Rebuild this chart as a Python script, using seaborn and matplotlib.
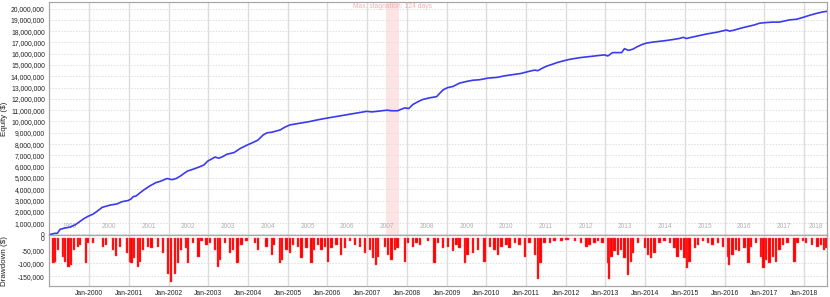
import matplotlib
matplotlib.use("Agg")
import numpy as np
import pandas as pd
import matplotlib.pyplot as plt
import seaborn as sns
from matplotlib.ticker import FuncFormatter, MultipleLocator

# ---------------- data ----------------
eq_year = [1999.02, 1999.14, 1999.20, 1999.27, 1999.37, 1999.52, 1999.65, 1999.77, 1999.87, 1999.97,
           2000.10, 2000.20, 2000.33, 2000.43, 2000.53, 2000.70, 2000.83, 2000.98, 2001.06, 2001.11,
           2001.18, 2001.36, 2001.53, 2001.69, 2001.79, 2001.96, 2002.09, 2002.19, 2002.29, 2002.47,
           2002.64, 2002.79, 2002.89, 2002.99, 2003.17, 2003.27, 2003.37, 2003.47, 2003.65, 2003.80,
           2003.97, 2004.10, 2004.25, 2004.38, 2004.48, 2004.60, 2004.81, 2004.93, 2005.06, 2005.31,
           2005.56, 2005.76, 2005.99, 2006.24, 2006.49, 2006.74, 2006.99, 2007.12, 2007.25, 2007.50,
           2007.62, 2007.77, 2007.87, 2007.95, 2008.05, 2008.15, 2008.28, 2008.40, 2008.58, 2008.75,
           2008.83, 2008.91, 2009.03, 2009.16, 2009.33, 2009.51, 2009.66, 2009.84, 2010.06, 2010.26,
           2010.47, 2010.67, 2010.87, 2011.09, 2011.22, 2011.30, 2011.40, 2011.52, 2011.65, 2011.77,
           2011.92, 2012.10, 2012.35, 2012.60, 2012.86, 2012.98, 2013.06, 2013.18, 2013.31, 2013.41,
           2013.48, 2013.58, 2013.69, 2013.79, 2013.91, 2014.04, 2014.24, 2014.49, 2014.69, 2014.86,
           2014.96, 2015.04, 2015.16, 2015.36, 2015.55, 2015.80, 2016.05, 2016.13, 2016.25, 2016.45,
           2016.63, 2016.75, 2016.88, 2017.01, 2017.21, 2017.38, 2017.64, 2017.81, 2017.96, 2018.14,
           2018.29, 2018.47, 2018.57]
eq_musd = [0.00, 0.10, 0.10, 0.45, 0.55, 0.65, 0.85, 1.15, 1.40, 1.60,
           1.80, 2.05, 2.40, 2.50, 2.60, 2.70, 2.90, 3.00, 3.15, 3.35,
           3.40, 3.90, 4.30, 4.60, 4.70, 4.95, 4.85, 4.95, 5.15, 5.60,
           5.80, 6.00, 6.15, 6.50, 6.85, 6.75, 6.90, 7.10, 7.25, 7.60,
           7.90, 8.10, 8.35, 8.80, 9.00, 9.05, 9.25, 9.50, 9.70, 9.85,
           10.00, 10.15, 10.30, 10.45, 10.60, 10.75, 10.90, 10.85, 10.90, 11.00,
           10.95, 10.95, 11.10, 11.20, 11.15, 11.50, 11.75, 11.95, 12.10, 12.20,
           12.50, 12.80, 13.00, 13.10, 13.40, 13.55, 13.65, 13.70, 13.85, 13.90,
           14.05, 14.15, 14.25, 14.45, 14.55, 14.50, 14.70, 14.90, 15.05, 15.20,
           15.35, 15.50, 15.65, 15.75, 15.85, 15.90, 15.80, 16.10, 16.10, 16.10,
           16.45, 16.30, 16.40, 16.60, 16.80, 16.95, 17.05, 17.15, 17.25, 17.35,
           17.45, 17.35, 17.45, 17.60, 17.75, 17.90, 18.10, 18.00, 18.10, 18.30,
           18.45, 18.55, 18.70, 18.75, 18.80, 18.80, 19.00, 19.05, 19.20, 19.40,
           19.55, 19.70, 19.75]

dd_year = [1999.10, 1999.14, 1999.22, 1999.35, 1999.40, 1999.48, 1999.55, 1999.62, 1999.72, 1999.77,
           1999.92, 1999.96, 2000.10, 2000.35, 2000.43, 2000.60, 2000.67, 2000.78, 2000.95, 2001.03,
           2001.07, 2001.13, 2001.23, 2001.28, 2001.36, 2001.48, 2001.57, 2001.74, 2001.86, 2001.99,
           2002.06, 2002.16, 2002.24, 2002.31, 2002.45, 2002.49, 2002.62, 2002.75, 2002.83, 2002.96,
           2003.04, 2003.17, 2003.24, 2003.30, 2003.42, 2003.55, 2003.63, 2003.74, 2003.84, 2003.96,
           2004.18, 2004.26, 2004.47, 2004.60, 2004.64, 2004.81, 2004.85, 2004.97, 2005.06, 2005.14,
           2005.26, 2005.35, 2005.47, 2005.60, 2005.67, 2005.76, 2005.85, 2005.94, 2006.02, 2006.10,
           2006.23, 2006.35, 2006.44, 2006.57, 2006.69, 2006.82, 2006.94, 2007.07, 2007.15, 2007.22,
           2007.28, 2007.45, 2007.53, 2007.61, 2007.70, 2007.77, 2007.95, 2008.03, 2008.16, 2008.24,
           2008.33, 2008.53, 2008.70, 2008.78, 2008.91, 2009.03, 2009.16, 2009.25, 2009.33, 2009.46,
           2009.53, 2009.66, 2009.79, 2009.96, 2010.09, 2010.21, 2010.29, 2010.38, 2010.51, 2010.59,
           2010.72, 2010.84, 2010.97, 2011.09, 2011.22, 2011.30, 2011.37, 2011.47, 2011.60, 2011.72,
           2011.89, 2012.01, 2012.05, 2012.23, 2012.39, 2012.52, 2012.60, 2012.73, 2012.81, 2012.93,
           2013.06, 2013.09, 2013.15, 2013.23, 2013.32, 2013.40, 2013.48, 2013.57, 2013.64, 2013.69,
           2013.82, 2013.99, 2014.07, 2014.15, 2014.24, 2014.36, 2014.49, 2014.62, 2014.74, 2014.82,
           2014.91, 2014.99, 2015.06, 2015.12, 2015.25, 2015.33, 2015.45, 2015.58, 2015.70, 2015.83,
           2015.96, 2016.08, 2016.12, 2016.20, 2016.29, 2016.37, 2016.50, 2016.60, 2016.67, 2016.79,
           2016.92, 2016.98, 2017.05, 2017.13, 2017.22, 2017.30, 2017.38, 2017.47, 2017.59, 2017.76,
           2017.84, 2017.97, 2018.05, 2018.21, 2018.34, 2018.43, 2018.51, 2018.56]
dd_kusd = [-100, -95, -47, -73, -93, -113, -107, -47, -34, -27,
           -100, -20, -20, -34, -27, -47, -71, -34, -60, -93,
           -100, -80, -115, -93, -47, -34, -40, -34, -60, -140,
           -172, -140, -100, -47, -40, -100, -20, -73, -13, -27,
           -20, -47, -113, -87, -20, -60, -47, -100, -27, -13,
           -20, -47, -34, -67, -27, -100, -87, -47, -60, -27,
           -34, -80, -40, -100, -47, -27, -47, -34, -93, -40,
           -27, -67, -40, -13, -27, -34, -60, -47, -80, -107,
           -73, -34, -67, -87, -47, -40, -93, -20, -34, -20,
           -27, -13, -100, -20, -40, -34, -53, -27, -40, -100,
           -67, -60, -47, -93, -34, -47, -67, -34, -27, -40,
           -20, -27, -73, -20, -67, -160, -100, -20, -20, -13,
           -13, -7, -7, -13, -20, -34, -27, -20, -13, -20,
           -100, -160, -73, -53, -67, -47, -80, -147, -93, -60,
           -20, -40, -67, -80, -60, -20, -13, -20, -40, -73,
           -47, -80, -120, -93, -40, -27, -13, -20, -27, -20,
           -34, -73, -107, -67, -47, -53, -40, -100, -34, -20,
           -73, -120, -87, -100, -73, -93, -47, -27, -20, -93,
           -20, -13, -20, -27, -34, -27, -47, -40]

tick_years = list(range(2000, 2019))
tick_labels = [f"Jan-{y}" for y in tick_years]
band_years = list(range(1999, 2019))
stag_start, stag_end = 2007.47, 2007.81
stag_text = "Max. stagnation: 124 days"

# ---------------- style ----------------
sns.set_theme(style="white")
plt.rcParams["font.family"] = ["Liberation Sans", "DejaVu Sans"]

W, H = 830, 297
fig = plt.figure(figsize=(W / 100, H / 100), dpi=100)
L, R = 49, 827
ax1 = fig.add_axes([L / W, 1 - 235 / H, (R - L) / W, 233 / H])
ax2 = fig.add_axes([L / W, 1 - 286 / H, (R - L) / W, 51 / H], sharex=ax1)

xmin, xmax = 1998.99, 2018.58
frame_col = "#a8a8a8"
vgrid = "#dcdcdc"
hgrid = "#dedede"
fs = 4.9

eq_df = pd.DataFrame({"year": eq_year, "equity": np.array(eq_musd) * 1e6})
dd_df = pd.DataFrame({"year": dd_year, "drawdown": np.array(dd_kusd) * 1e3})

# stagnation band
ax1.axvspan(stag_start, stag_end, color="#fde4e4", zorder=0.5, lw=0)
ax1.text((stag_start + stag_end) / 2, 1 - 5 / 233, stag_text, transform=ax1.get_xaxis_transform(),
         ha="center", va="center", fontsize=fs, color="#f5b0b0")

sns.lineplot(data=eq_df, x="year", y="equity", ax=ax1, color="#3a3af0", lw=1.2, zorder=3)

ax2.bar(dd_df["year"], dd_df["drawdown"], width=0.06, color="#ff0000", lw=0.3,
        edgecolor="#ff5050", zorder=3)

for ax in (ax1, ax2):
    ax.set_xlim(xmin, xmax)
    ax.set_xticks(tick_years)
    ax.set_axisbelow(True)
    ax.xaxis.grid(True, color=vgrid, lw=1.0, ls="-")
    ax.yaxis.grid(True, color=hgrid, lw=0.7, ls=(0, (1.5, 1.5)))
    for s in ax.spines.values():
        s.set_color(frame_col)
        s.set_linewidth(0.9)
    ax.tick_params(axis="both", length=0, labelsize=fs, colors="#222222", pad=3)
    ax.set_xlabel("")

ax1.set_ylim(-0.05e6, 20.58e6)
ax1.yaxis.set_major_locator(MultipleLocator(1e6))
ax1.yaxis.set_major_formatter(FuncFormatter(lambda v, p: f"{v:,.0f}"))
ax1.tick_params(axis="x", labelbottom=False)
ax1.set_ylabel("Equity ($)", fontsize=5.8, color="#222222")
ax1.yaxis.set_label_coords(-(L - 8) / (R - L), 0.5)

for y in band_years:
    xc = (y + min(y + 1, xmax)) / 2
    ax1.text(xc, 8 / 233, str(y), transform=ax1.get_xaxis_transform(), ha="center", va="center",
             fontsize=fs - 0.2, color="#b0b0b0", zorder=2)

ax2.set_ylim(-189000, 12000)
ax2.set_yticks([0, -50000, -100000, -150000])
ax2.yaxis.set_major_formatter(FuncFormatter(lambda v, p: f"{v:,.0f}"))
ax2.set_xticklabels(tick_labels)
ax2.set_ylabel("Drawdown ($)", fontsize=5.8, color="#222222")
ax2.yaxis.set_label_coords(-(L - 8) / (R - L), 0.5)

fig.savefig("out.png", dpi=100)
